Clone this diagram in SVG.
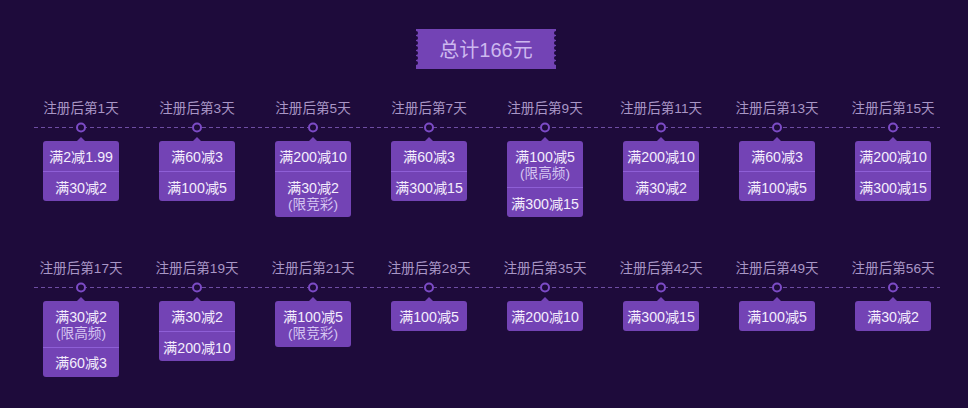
<svg xmlns="http://www.w3.org/2000/svg" width="968" height="408" viewBox="0 0 968 408">
<style>
.lbl{font-family:"Liberation Sans","Noto Sans CJK SC",sans-serif;font-size:13.6px;fill:#a996c6;text-anchor:middle}
.t{font-family:"Liberation Sans","Noto Sans CJK SC",sans-serif;font-size:14.2px;fill:#f4eefc;text-anchor:middle}
.s{font-family:"Liberation Sans","Noto Sans CJK SC",sans-serif;font-size:13.6px;fill:#d6c6f2;text-anchor:middle}
.card{fill:#7343b5}
.div{stroke:#8e5fd6;stroke-width:1}
.dot{fill:#1e0b3b;stroke:#7c4bc6;stroke-width:2}
.dash{stroke:#6e4da3;stroke-width:1;stroke-dasharray:4 3}
.bite{fill:#1e0b3b}
</style>
<rect width="968" height="408" fill="#1e0b3b"/>
<g id="title">
<rect x="416" y="29" width="140" height="40" fill="#7343b5"/>
<g class="bite">
<circle cx="416" cy="33" r="2"/><circle cx="416" cy="38" r="2"/><circle cx="416" cy="43" r="2"/><circle cx="416" cy="48" r="2"/><circle cx="416" cy="53" r="2"/><circle cx="416" cy="58" r="2"/><circle cx="416" cy="63" r="2"/>
<circle cx="556" cy="33" r="2"/><circle cx="556" cy="38" r="2"/><circle cx="556" cy="43" r="2"/><circle cx="556" cy="48" r="2"/><circle cx="556" cy="53" r="2"/><circle cx="556" cy="58" r="2"/><circle cx="556" cy="63" r="2"/>
</g>
<text x="486" y="56.5" font-family="Liberation Sans,Noto Sans CJK SC,sans-serif" font-size="20" fill="#cdb8ef" text-anchor="middle">总计166元</text>
</g>
<g id="connectors">
<line class="dash" x1="34" y1="127.5" x2="940" y2="127.5"/>
<line class="dash" x1="34" y1="287.5" x2="940" y2="287.5"/>
</g>
<defs>
<path id="ptr" d="M-4 0L0 -4L4 0Z" fill="#7343b5"/>
</defs>
<!-- Row 1 -->
<g id="d1"><text class="lbl" x="81" y="112.5">注册后第1天</text><circle class="dot" cx="81" cy="127.5" r="4"/><use href="#ptr" x="81" y="141"/><rect class="card" x="43" y="141" width="76" height="60" rx="3"/><line class="div" x1="43" y1="171.5" x2="119" y2="171.5"/><text class="t" x="81" y="162">满2减1.99</text><text class="t" x="81" y="192.5">满30减2</text></g>
<g id="d3"><text class="lbl" x="197" y="112.5">注册后第3天</text><circle class="dot" cx="197" cy="127.5" r="4"/><use href="#ptr" x="197" y="141"/><rect class="card" x="159" y="141" width="76" height="60" rx="3"/><line class="div" x1="159" y1="171.5" x2="235" y2="171.5"/><text class="t" x="197" y="162">满60减3</text><text class="t" x="197" y="192.5">满100减5</text></g>
<g id="d5"><text class="lbl" x="313" y="112.5">注册后第5天</text><circle class="dot" cx="313" cy="127.5" r="4"/><use href="#ptr" x="313" y="141"/><rect class="card" x="275" y="141" width="76" height="76" rx="3"/><line class="div" x1="275" y1="171.5" x2="351" y2="171.5"/><text class="t" x="313" y="162">满200减10</text><text class="t" x="313" y="192.5">满30减2</text><text class="s" x="313" y="208.5">(限竞彩)</text></g>
<g id="d7"><text class="lbl" x="429" y="112.5">注册后第7天</text><circle class="dot" cx="429" cy="127.5" r="4"/><use href="#ptr" x="429" y="141"/><rect class="card" x="391" y="141" width="76" height="60" rx="3"/><line class="div" x1="391" y1="171.5" x2="467" y2="171.5"/><text class="t" x="429" y="162">满60减3</text><text class="t" x="429" y="192.5">满300减15</text></g>
<g id="d9"><text class="lbl" x="545" y="112.5">注册后第9天</text><circle class="dot" cx="545" cy="127.5" r="4"/><use href="#ptr" x="545" y="141"/><rect class="card" x="507" y="141" width="76" height="76" rx="3"/><line class="div" x1="507" y1="187.5" x2="583" y2="187.5"/><text class="t" x="545" y="162">满100减5</text><text class="s" x="545" y="177.5">(限高频)</text><text class="t" x="545" y="208.5">满300减15</text></g>
<g id="d11"><text class="lbl" x="661" y="112.5">注册后第11天</text><circle class="dot" cx="661" cy="127.5" r="4"/><use href="#ptr" x="661" y="141"/><rect class="card" x="623" y="141" width="76" height="60" rx="3"/><line class="div" x1="623" y1="171.5" x2="699" y2="171.5"/><text class="t" x="661" y="162">满200减10</text><text class="t" x="661" y="192.5">满30减2</text></g>
<g id="d13"><text class="lbl" x="777" y="112.5">注册后第13天</text><circle class="dot" cx="777" cy="127.5" r="4"/><use href="#ptr" x="777" y="141"/><rect class="card" x="739" y="141" width="76" height="60" rx="3"/><line class="div" x1="739" y1="171.5" x2="815" y2="171.5"/><text class="t" x="777" y="162">满60减3</text><text class="t" x="777" y="192.5">满100减5</text></g>
<g id="d15"><text class="lbl" x="893" y="112.5">注册后第15天</text><circle class="dot" cx="893" cy="127.5" r="4"/><use href="#ptr" x="893" y="141"/><rect class="card" x="855" y="141" width="76" height="60" rx="3"/><line class="div" x1="855" y1="171.5" x2="931" y2="171.5"/><text class="t" x="893" y="162">满200减10</text><text class="t" x="893" y="192.5">满300减15</text></g>
<!-- Row 2 -->
<g id="d17"><text class="lbl" x="81" y="273">注册后第17天</text><circle class="dot" cx="81" cy="287.5" r="4"/><use href="#ptr" x="81" y="301"/><rect class="card" x="43" y="301" width="76" height="76" rx="3"/><line class="div" x1="43" y1="347.5" x2="119" y2="347.5"/><text class="t" x="81" y="322">满30减2</text><text class="s" x="81" y="338">(限高频)</text><text class="t" x="81" y="368">满60减3</text></g>
<g id="d19"><text class="lbl" x="197" y="273">注册后第19天</text><circle class="dot" cx="197" cy="287.5" r="4"/><use href="#ptr" x="197" y="301"/><rect class="card" x="159" y="301" width="76" height="60" rx="3"/><line class="div" x1="159" y1="331.5" x2="235" y2="331.5"/><text class="t" x="197" y="322">满30减2</text><text class="t" x="197" y="352.5">满200减10</text></g>
<g id="d21"><text class="lbl" x="313" y="273">注册后第21天</text><circle class="dot" cx="313" cy="287.5" r="4"/><use href="#ptr" x="313" y="301"/><rect class="card" x="275" y="301" width="76" height="46" rx="3"/><text class="t" x="313" y="322">满100减5</text><text class="s" x="313" y="338">(限竞彩)</text></g>
<g id="d28"><text class="lbl" x="429" y="273">注册后第28天</text><circle class="dot" cx="429" cy="287.5" r="4"/><use href="#ptr" x="429" y="301"/><rect class="card" x="391" y="301" width="76" height="30" rx="3"/><text class="t" x="429" y="321.5">满100减5</text></g>
<g id="d35"><text class="lbl" x="545" y="273">注册后第35天</text><circle class="dot" cx="545" cy="287.5" r="4"/><use href="#ptr" x="545" y="301"/><rect class="card" x="507" y="301" width="76" height="30" rx="3"/><text class="t" x="545" y="321.5">满200减10</text></g>
<g id="d42"><text class="lbl" x="661" y="273">注册后第42天</text><circle class="dot" cx="661" cy="287.5" r="4"/><use href="#ptr" x="661" y="301"/><rect class="card" x="623" y="301" width="76" height="30" rx="3"/><text class="t" x="661" y="321.5">满300减15</text></g>
<g id="d49"><text class="lbl" x="777" y="273">注册后第49天</text><circle class="dot" cx="777" cy="287.5" r="4"/><use href="#ptr" x="777" y="301"/><rect class="card" x="739" y="301" width="76" height="30" rx="3"/><text class="t" x="777" y="321.5">满100减5</text></g>
<g id="d56"><text class="lbl" x="893" y="273">注册后第56天</text><circle class="dot" cx="893" cy="287.5" r="4"/><use href="#ptr" x="893" y="301"/><rect class="card" x="855" y="301" width="76" height="30" rx="3"/><text class="t" x="893" y="321.5">满30减2</text></g>
</svg>
